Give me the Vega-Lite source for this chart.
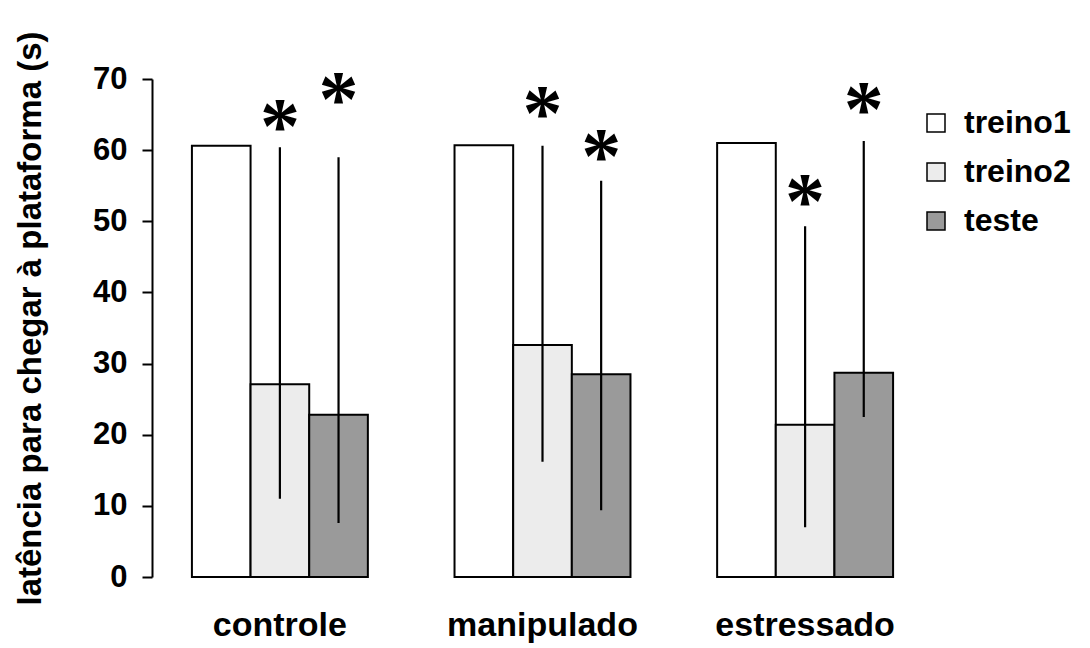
{
  "$schema": "https://vega.github.io/schema/vega-lite/v6.json",
  "width": 781,
  "height": 498,
  "autosize": {"type": "none"},
  "padding": {"left": 152, "top": 79, "right": 157, "bottom": 71},
  "background": "white",
  "config": {"view": {"stroke": null}, "font": "Liberation Sans"},
  "data": {
    "values": [
      {"grupo": "controle", "sessao": "treino1", "lat": 60.6, "lo": null, "hi": null, "sig": null},
      {"grupo": "controle", "sessao": "treino2", "lat": 27.1, "lo": 11.0, "hi": 60.4, "sig": 64.9},
      {"grupo": "controle", "sessao": "teste", "lat": 22.8, "lo": 7.6, "hi": 59.0, "sig": 68.7},
      {"grupo": "manipulado", "sessao": "treino1", "lat": 60.7, "lo": null, "hi": null, "sig": null},
      {"grupo": "manipulado", "sessao": "treino2", "lat": 32.6, "lo": 16.2, "hi": 60.6, "sig": 66.8},
      {"grupo": "manipulado", "sessao": "teste", "lat": 28.5, "lo": 9.4, "hi": 55.7, "sig": 60.7},
      {"grupo": "estressado", "sessao": "treino1", "lat": 61.0, "lo": null, "hi": null, "sig": null},
      {"grupo": "estressado", "sessao": "treino2", "lat": 21.4, "lo": 7.0, "hi": 49.3, "sig": 54.4},
      {"grupo": "estressado", "sessao": "teste", "lat": 28.7, "lo": 22.5, "hi": 61.3, "sig": 67.3}
    ]
  },
  "encoding": {
    "x": {
      "field": "grupo",
      "type": "nominal",
      "sort": ["controle", "manipulado", "estressado"],
      "scale": {"paddingInner": 0.33, "paddingOuter": 0.152},
      "axis": {
        "title": null,
        "domain": false,
        "ticks": false,
        "tickSize": 0,
        "labelAngle": 0,
        "labelLimit": 0,
        "labelFont": "Liberation Sans",
        "labelFontSize": 34,
        "labelFontWeight": "bold",
        "labelColor": "black",
        "labelPadding": 31
      }
    },
    "xOffset": {
      "field": "sessao",
      "type": "nominal",
      "sort": ["treino1", "treino2", "teste"],
      "scale": {"paddingInner": 0, "paddingOuter": 0}
    }
  },
  "layer": [
    {
      "mark": {"type": "bar", "stroke": "black", "strokeWidth": 2},
      "encoding": {
        "y": {
          "field": "lat",
          "type": "quantitative",
          "scale": {"domain": [0, 70], "nice": false},
          "axis": {
            "values": [0, 10, 20, 30, 40, 50, 60, 70],
            "grid": false,
            "title": "latência para chegar à plataforma (s)",
            "titleFont": "Liberation Sans",
            "titleFontSize": 33,
            "titleFontWeight": "bold",
            "titleColor": "black",
            "titleAngle": -90,
            "titleBaseline": "alphabetic",
            "titleX": -112,
            "titleY": 239,
            "labelFont": "Liberation Sans",
            "labelFontSize": 31,
            "labelFontWeight": "bold",
            "labelColor": "black",
            "labelPadding": 15,
            "tickSize": 10,
            "tickColor": "black",
            "tickWidth": 2,
            "domainColor": "black",
            "domainWidth": 2
          }
        },
        "fill": {
          "field": "sessao",
          "type": "nominal",
          "scale": {
            "domain": ["treino1", "treino2", "teste"],
            "range": ["#ffffff", "#ececec", "#9a9a9a"]
          },
          "legend": {
            "title": null,
            "orient": "none",
            "legendX": 768,
            "legendY": 28,
            "padding": 0,
            "symbolType": "square",
            "symbolSize": 324,
            "symbolStrokeColor": "black",
            "symbolStrokeWidth": 1.5,
            "labelFont": "Liberation Sans",
            "labelFontSize": 32,
            "labelFontWeight": "bold",
            "labelColor": "black",
            "labelOffset": 12,
            "labelLimit": 0,
            "rowPadding": 17
          }
        }
      }
    },
    {
      "transform": [{"filter": "datum.lo != null"}],
      "mark": {"type": "rule", "color": "black", "strokeWidth": 2.2},
      "encoding": {
        "y": {"field": "lo", "type": "quantitative"},
        "y2": {"field": "hi"}
      }
    },
    {
      "transform": [{"filter": "datum.sig != null"}],
      "mark": {
        "type": "text",
        "text": "*",
        "font": "Liberation Serif",
        "fontSize": 80,
        "fontWeight": "bold",
        "align": "center",
        "baseline": "alphabetic",
        "dy": 38,
        "color": "black"
      },
      "encoding": {
        "y": {"field": "sig", "type": "quantitative"}
      }
    }
  ]
}
